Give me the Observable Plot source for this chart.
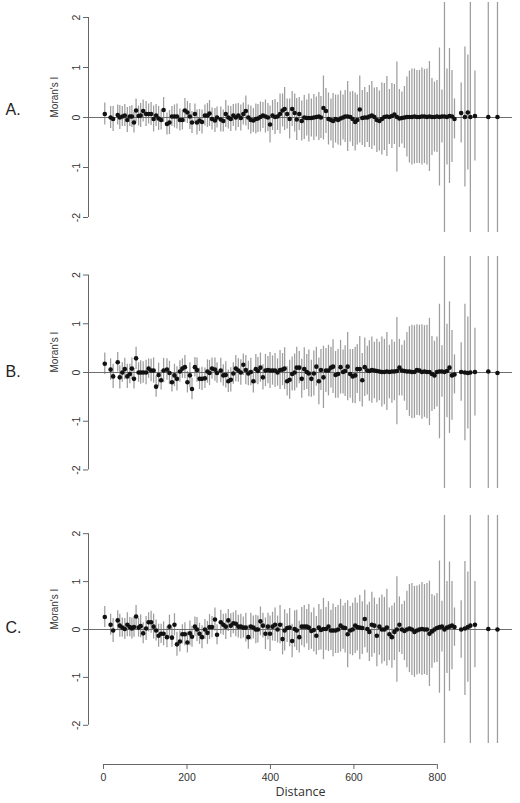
<!DOCTYPE html>
<html><head><meta charset="utf-8">
<script src="https://cdn.jsdelivr.net/npm/d3@7"></script>
<script src="https://cdn.jsdelivr.net/npm/@observablehq/plot@0.6"></script>
<style>
body{margin:0;background:#fff;}
#chart{width:520px;height:803px;overflow:hidden;}
#chart svg{display:block;}
</style></head><body><div id="chart"></div>
<script>
// distance classes (shared by the three correlograms)
const dist = [3,17,23,34,39,45,51,57,63,68,73,78,84,89,95,102,108,114,120,126,132,138,144,152,158,164,170,176,183,189,195,201,207,212,219,224,230,236,243,249,254,260,267,272,281,287,293,299,305,311,317,323,329,335,341,347,353,359,365,
370,376,382,388,394,399,405,411,417,423,429,434,440,446,452,458,463,469,475,481,487,492,498,504,510,516,521,527,533,539,545,550,556,562,568,574,579,585,591,597,603,608,614,620,626,632,637,643,649,655,661,667,
673,679,685,691,697,703,709,715,721,727,733,739,745,751,757,763,769,775,781,787,793,799,805,811,817,823,829,835,841,
857,866,873,879,890,922,944];

// half-length of the error bars (same in every panel)
const errHalf = [0.22,0.22,0.25,0.2,0.24,0.2,0.22,0.25,0.2,0.22, 0.21,0.23,0.2,0.24,0.22,0.25,0.2,0.23,0.26,0.22, 0.24,0.2,0.25,0.22,0.24,0.2,0.23,0.25,0.22,0.2, 0.24,0.22,0.26,0.22,0.2,0.25,0.22,0.24,0.21,0.24, 0.26,0.22,0.24,0.21,0.25,0.22,0.27,0.23,0.25,0.22, 0.27,0.24,0.26,0.22,0.3,0.25,0.28,0.24,0.3,
0.28,0.3,0.26,0.33,0.28,0.37,0.3,0.35,0.28,0.4, 0.33,0.43,0.3,0.4,0.35,0.38,0.42,0.33,0.4,0.44, 0.36,0.48,0.38,0.46,0.4,0.48,0.42,0.64,0.45,0.52, 0.42,0.55,0.48,0.5,0.55,0.45,0.52,0.7,0.5,0.55, 0.58,0.5,0.67,0.55,0.6,0.5,0.62,0.68,0.58,0.65, 0.6,0.72,
0.67,0.8,0.55,0.65,0.6,1.1,0.58,0.52,0.62,0.8, 0.92,0.96,0.95,0.93,0.93,0.97,0.94,0.96,1.1,0.77, 0.7,0.72,1.38,0.53,3,0.96,1.35,0.92,0.4,
0.6,1.4,1.15,3,0.9,3,3];

const moranA = [0.07,0,-0.03,0.05,0,0.02,0.04,-0.05,0.02,0.02, -0.1,0.14,0.03,0.04,0.13,0.07,0.07,0.07,-0.03,0.04, -0.02,-0.05,0.15,-0.13,-0.1,0.02,0.02,0.02,-0.05,-0.05, 0.14,0.1,0.02,-0.1,0.07,-0.1,-0.06,-0.09,0.04,0.04, 0.08,-0.03,-0.06,0,-0.04,-0.07,0.07,0,-0.03,0.04, 0,0.04,-0.01,0.07,0.13,0,-0.05,-0.06,-0.03,
-0.02,0.01,0.04,0.02,0,-0.14,0.04,0.01,0.02,0.07, 0.14,0.17,0.07,-0.03,0.17,0.09,-0.04,0.07,-0.07,0, -0.01,-0.01,-0.01,0,0.01,0.02,0,0.19,0.13,-0.03, -0.05,-0.07,-0.03,-0.05,-0.02,0,0.02,0.02,0.01,-0.03, -0.09,-0.05,0.16,-0.01,0,0,0.02,0.04,0.01,-0.05, -0.07,-0.03,
0.01,0.02,0.01,0.03,0.06,0.01,-0.02,-0.01,0,0.01, 0.01,0.01,0.02,0.01,0.01,0.02,0.02,0.01,0.02,0.01, 0.01,0.02,0.01,0.02,0.02,0.01,0.03,0.02,-0.03,
0.09,0.01,0.1,0.01,0.03,0.01,0.01];

const moranB = [0.18,0.06,-0.08,0.21,-0.1,0,0.07,-0.08,-0.03,0.08, -0.13,0.29,0,0,0,0,0.08,0.04,0.04,-0.29, -0.05,-0.16,0.04,0.06,-0.01,-0.2,-0.06,-0.13,0.02,0.08, 0.11,-0.2,-0.06,-0.34,0.11,0.05,-0.13,-0.13,-0.12,0.02, -0.01,0.08,0.06,-0.01,0.04,-0.06,-0.05,-0.18,-0.15,-0.02, 0.08,0.04,0,0.16,0.05,-0.02,0.01,-0.18,0.07,
0.03,0.1,-0.1,0.04,0.05,0.04,0.04,0.04,0,0.05, 0.06,0.08,-0.18,-0.15,-0.03,0,0.1,0.1,-0.13,0.07, 0.01,-0.02,-0.13,-0.02,0.12,-0.18,0.05,-0.1,0.04,0.04, 0.1,0.12,-0.05,-0.03,0.11,0.01,0.03,0.12,-0.03,-0.08, -0.06,0.07,0.07,-0.16,0.11,0.04,0.03,0.05,0.04,0.03, 0.02,0.01,
0.01,0.02,0.01,0.02,0.02,0.03,0.1,0.04,0.03,0.02, 0.02,0.01,0.01,0.05,0.04,0.01,0.02,0.01,0.01,-0.03, -0.06,0.01,0.02,0.02,0.01,0.03,0.1,-0.06,-0.04,
0.01,0,-0.01,0,0.01,0.02,-0.01];

const moranC = [0.26,0.1,-0.02,0.19,0.08,0.04,0.01,0.1,0.05,0.02, 0.05,0.27,0.04,0.07,-0.08,0.02,0.15,0.15,0.06,-0.02, -0.13,-0.09,-0.09,-0.16,0.06,-0.17,0.1,-0.31,-0.25,-0.1, -0.1,-0.27,-0.08,-0.15,0.06,0,-0.09,-0.16,0,-0.07, 0.05,0.05,0.21,-0.11,0.15,0.1,0.06,0.19,0.08,0.13, 0.12,0.06,0.06,0.04,0.04,-0.16,0.06,0.04,0,
0,0.17,0.08,-0.09,0.06,-0.09,0.06,0.1,0,0.1, -0.2,-0.02,0.03,0.04,-0.24,0.01,-0.02,-0.16,0.06,0.06, 0.06,0.04,-0.03,-0.01,-0.13,0.04,-0.01,0.01,0.01,0.06, -0.02,-0.02,-0.02,0,0.08,0.04,0.03,-0.1,-0.02,0, 0.08,0.05,0.04,0.03,0.22,0.01,-0.05,0.1,0.08,-0.13, 0.06,0,
0,0.04,-0.1,-0.16,-0.05,0,0.1,0,-0.03,0, 0.02,0,-0.05,-0.02,0,0.01,0,0,-0.09,-0.04, 0,0.03,0.05,0.06,0,0.04,0.06,0.08,0.05,
0,0.02,0.05,0.08,0.1,0.01,0];

const panelLabels = ["A.", "B.", "C."];
const yTicks = [-2, -1, 0, 1, 2];
const xTicks = [0, 200, 400, 600, 800];
const yLabel = "Moran's I";
const xLabel = "Distance";

const xDomain = [-36, 980];
const layout = [
  {height: 256, marginTop: 2, marginBottom: 24, ymax: 2.3, labelDy: -8, xAxis: false},
  {height: 259, marginTop: 0, marginBottom: 27, ymax: 2.38, labelDy: -1, xAxis: false},
  {height: 288, marginTop: 0, marginBottom: 60, ymax: 2.38, labelDy: -2, xAxis: true}
];
const series = [moranA, moranB, moranC];

const chart = document.getElementById("chart");
series.forEach((vals, i) => {
  const L = layout[i];
  const rows = dist.map((d, j) => ({d, v: vals[j], e: errHalf[j]}));
  const marks = [
    Plot.ruleX(rows, {x: "d", y1: r => r.v - r.e, y2: r => r.v + r.e, stroke: "#9d9d9d", strokeWidth: 1.25, clip: true}),
    Plot.ruleY([0], {stroke: "#6e6e6e", strokeWidth: 1}),
    Plot.dot(rows, {x: "d", y: "v", r: 2.3, fill: "#111"}),
    Plot.ruleX([xDomain[0]], {y1: yTicks[0], y2: yTicks[yTicks.length - 1], stroke: "#666"}),
    Plot.axisY({ticks: yTicks, tickSize: 5, tickRotate: -90, fontSize: 10.5, tickFormat: d => String(d), label: null, stroke: "#666", fill: "#333"}),
    Plot.text([yLabel], {frameAnchor: "left", rotate: -90, dx: -34, fontSize: 10, fill: "#333"}),
    Plot.text([panelLabels[i]], {frameAnchor: "left", dx: -83, dy: L.labelDy, textAnchor: "start", fontSize: 16, fill: "#222"})
  ];
  if (L.xAxis) {
    marks.push(
      Plot.ruleY([-L.ymax], {x1: xTicks[0], x2: xTicks[xTicks.length - 1], dy: 21, stroke: "#666"}),
      Plot.axisX({ticks: xTicks, tickSize: 5, dy: 21, fontSize: 10.5, tickFormat: d => String(d), label: null, stroke: "#666", fill: "#333"}),
      Plot.text([xLabel], {frameAnchor: "bottom", dy: 52, fontSize: 12.5, fill: "#333", fontFamily: "Open Sans, sans-serif"})
    );
  }
  const svg = Plot.plot({
    width: 520,
    height: L.height,
    marginLeft: 88,
    marginRight: 8,
    marginTop: L.marginTop,
    marginBottom: L.marginBottom,
    x: {domain: xDomain, axis: null},
    y: {domain: [-L.ymax, L.ymax], axis: null},
    style: {fontFamily: "Liberation Sans, Arial, sans-serif", background: "#fff", overflow: "visible"},
    marks
  });
  chart.appendChild(svg);
});
</script>
</body></html>
